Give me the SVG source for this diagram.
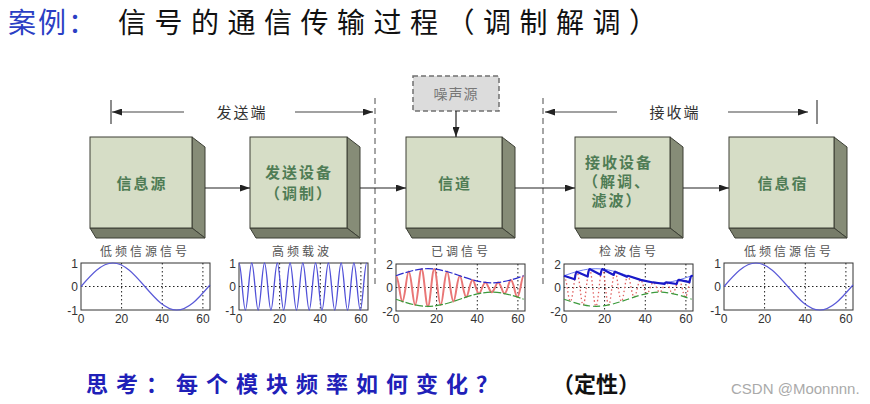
<svg xmlns="http://www.w3.org/2000/svg" xmlns:xlink="http://www.w3.org/1999/xlink" width="870" height="404" viewBox="0 0 870 404">
<style>
.cjk{font-family:"Noto Sans CJK SC","Noto Sans",sans-serif}
.front{fill:#d6ddc6;stroke:#3c3f35;stroke-width:1}
.side{fill:#868c77;stroke:#3c3f35;stroke-width:1}
.bot{fill:#777c69;stroke:#3c3f35;stroke-width:1}
.lbl{font-family:"Noto Sans CJK SC",sans-serif;font-size:15px;font-weight:bold;fill:#4f7c55;text-anchor:middle;letter-spacing:2px}
.conn{stroke:#222;stroke-width:1.2;fill:none;marker-end:url(#ah)}
.span{stroke:#444;stroke-width:1.2;fill:none;marker-end:url(#ah)}
.tickm{stroke:#666;stroke-width:1.5}
.vdash{stroke:#888;stroke-width:1.5;stroke-dasharray:6 4}
.axis{fill:#fff;stroke:#333;stroke-width:1}
.grid{stroke:#222;stroke-width:1;stroke-dasharray:1.5 2.5;fill:none}
.tk{font-family:"Liberation Sans",Arial,sans-serif;font-size:12px;fill:#333}
.tky{text-anchor:end}
.tkx{text-anchor:middle}
.pt{font-family:"Noto Sans CJK SC",sans-serif;font-size:12px;fill:#555;letter-spacing:3px;text-anchor:middle}
.side-lbl{font-family:"Noto Sans CJK SC",sans-serif;font-size:15px;fill:#333;letter-spacing:2px;text-anchor:middle}
</style>
<defs>
<marker id="ah" viewBox="0 0 10 7" refX="10" refY="3.5" markerWidth="10" markerHeight="7" markerUnits="userSpaceOnUse" orient="auto">
<path d="M0,0 L10,3.5 L0,7 z" fill="#222"/>
</marker>
<path id="sine" vector-effect="non-scaling-stroke" fill="none" d="M0,0 C5.123,.5123 10.023,1 15.708,1 C21.393,1 26.293,.5123 31.416,0 C36.539,-.5123 41.439,-1 47.124,-1 C52.809,-1 57.709,-.5123 62.832,0 L63.5,.067"/>
<path id="carrier" vector-effect="non-scaling-stroke" fill="none" d="M0,1 c.5685,0 1.0585,-.4877 1.5708,-1 c.5123,-.5123 1.0023,-1 1.5708,-1 c.5685,0 1.0585,.4877 1.5708,1 c.5123,.5123 1.0023,1 1.5708,1 c.5685,0 1.0585,-.4877 1.5708,-1 c.5123,-.5123 1.0023,-1 1.5708,-1 c.5685,0 1.0585,.4877 1.5708,1 c.5123,.5123 1.0023,1 1.5708,1 c.5685,0 1.0585,-.4877 1.5708,-1 c.5123,-.5123 1.0023,-1 1.5708,-1 c.5685,0 1.0585,.4877 1.5708,1 c.5123,.5123 1.0023,1 1.5708,1 c.5685,0 1.0585,-.4877 1.5708,-1 c.5123,-.5123 1.0023,-1 1.5708,-1 c.5685,0 1.0585,.4877 1.5708,1 c.5123,.5123 1.0023,1 1.5708,1 c.5685,0 1.0585,-.4877 1.5708,-1 c.5123,-.5123 1.0023,-1 1.5708,-1 c.5685,0 1.0585,.4877 1.5708,1 c.5123,.5123 1.0023,1 1.5708,1 c.5685,0 1.0585,-.4877 1.5708,-1 c.5123,-.5123 1.0023,-1 1.5708,-1 c.5685,0 1.0585,.4877 1.5708,1 c.5123,.5123 1.0023,1 1.5708,1 c.5685,0 1.0585,-.4877 1.5708,-1 c.5123,-.5123 1.0023,-1 1.5708,-1 c.5685,0 1.0585,.4877 1.5708,1 c.5123,.5123 1.0023,1 1.5708,1 c.5685,0 1.0585,-.4877 1.5708,-1 c.5123,-.5123 1.0023,-1 1.5708,-1 c.5685,0 1.0585,.4877 1.5708,1 c.5123,.5123 1.0023,1 1.5708,1 c.5685,0 1.0585,-.4877 1.5708,-1 c.5123,-.5123 1.0023,-1 1.5708,-1 c.5685,0 1.0585,.4877 1.5708,1 c.5123,.5123 1.0023,1 1.5708,1 c.5685,0 1.0585,-.4877 1.5708,-1 c.5123,-.5123 1.0023,-1 1.5708,-1 c.5685,0 1.0585,.4877 1.5708,1 c.5123,.5123 1.0023,1 1.5708,1"/>
<path id="am" vector-effect="non-scaling-stroke" fill="none" d="M0,1 c.5685,0 1.0585,-.4877 1.5708,-1 c.5123,-.6073 1.0023,-1.1854 1.5708,-1.1854 c.5685,0 1.0585,.5781 1.5708,1.1854 c.5123,.6930 1.0023,1.3527 1.5708,1.3527 c.5685,0 1.0585,-.6597 1.5708,-1.3527 c.5123,-.7610 1.0023,-1.4854 1.5708,-1.4854 c.5685,0 1.0585,.7244 1.5708,1.4854 c.5123,.8046 1.0023,1.5706 1.5708,1.5706 c.5685,0 1.0585,-.7660 1.5708,-1.5706 c.5123,-.8197 1.0023,-1.6 1.5708,-1.6 c.5685,0 1.0585,.7803 1.5708,1.6 c.5123,.8046 1.0023,1.5706 1.5708,1.5706 c.5685,0 1.0585,-.7660 1.5708,-1.5706 c.5123,-.7610 1.0023,-1.4854 1.5708,-1.4854 c.5685,0 1.0585,.7244 1.5708,1.4854 c.5123,.6930 1.0023,1.3527 1.5708,1.3527 c.5685,0 1.0585,-.6597 1.5708,-1.3527 c.5123,-.6073 1.0023,-1.1854 1.5708,-1.1854 c.5685,0 1.0585,.5781 1.5708,1.1854 c.5123,.5123 1.0023,1 1.5708,1 c.5685,0 1.0585,-.4877 1.5708,-1 c.5123,-.4173 1.0023,-.8146 1.5708,-.8146 c.5685,0 1.0585,.3973 1.5708,.8146 c.5123,.3316 1.0023,.6473 1.5708,.6473 c.5685,0 1.0585,-.3157 1.5708,-.6473 c.5123,-.2636 1.0023,-.5146 1.5708,-.5146 c.5685,0 1.0585,.2510 1.5708,.5146 c.5123,.2200 1.0023,.4294 1.5708,.4294 c.5685,0 1.0585,-.2094 1.5708,-.4294 c.5123,-.2049 1.0023,-.4 1.5708,-.4 c.5685,0 1.0585,.1951 1.5708,.4 c.5123,.2200 1.0023,.4294 1.5708,.4294 c.5685,0 1.0585,-.2094 1.5708,-.4294 c.5123,-.2636 1.0023,-.5146 1.5708,-.5146 c.5685,0 1.0585,.2510 1.5708,.5146 c.5123,.3316 1.0023,.6473 1.5708,.6473 c.5685,0 1.0585,-.3157 1.5708,-.6473 c.5123,-.4173 1.0023,-.8146 1.5708,-.8146 c.5685,0 1.0585,.3973 1.5708,.8146 c.5123,.5123 1.0023,1 1.5708,1"/>
<path id="envU" vector-effect="non-scaling-stroke" fill="none" d="M0,1 c5.123,.3074 10.023,.6 15.708,.6 c5.685,0 10.585,-.2926 15.708,-.6 c5.123,-.3074 10.023,-.6 15.708,-.6 c5.685,0 10.585,.2926 15.708,.6"/>
<path id="envL" vector-effect="non-scaling-stroke" fill="none" d="M0,-1 c5.123,-.3074 10.023,-.6 15.708,-.6 c5.685,0 10.585,.2926 15.708,.6 c5.123,.3074 10.023,.6 15.708,.6 c5.685,0 10.585,-.2926 15.708,-.6"/>
</defs>
<rect width="870" height="404" fill="#fff"/>
<!-- title -->
<text x="8" y="33" class="cjk" font-size="28" fill="#2b3fc4" letter-spacing="2">案例：</text>
<text x="118" y="33" class="cjk" font-size="28" fill="#111" letter-spacing="8.5">信号的通信传输过程（调制解调）</text>
<!-- span markers -->
<g id="send-span">
<line class="tickm" x1="111" y1="100" x2="111" y2="124"/>
<line class="span" x1="184" y1="112" x2="112" y2="112"/>
<line class="span" x1="295" y1="112" x2="373" y2="112"/>
<text class="side-lbl" x="242" y="118">发送端</text>
</g>
<g id="recv-span">
<line class="tickm" x1="817" y1="100" x2="817" y2="124"/>
<line class="span" x1="617" y1="112" x2="545" y2="112"/>
<line class="span" x1="728" y1="112" x2="808" y2="112"/>
<text class="side-lbl" x="675" y="118">接收端</text>
</g>
<line class="vdash" x1="375" y1="98" x2="375" y2="284"/>
<line class="vdash" x1="543" y1="98" x2="543" y2="284"/>
<!-- nodes -->
<g id="source">
<polygon class="side" points="192,137 205,147 205,238 192,228"/>
<polygon class="bot" points="90,228 192,228 205,238 96,238"/>
<rect class="front" x="90" y="137" width="102" height="91"/>
<text class="lbl" x="142" y="189">信息源</text>
</g>
<g id="transmitter">
<polygon class="side" points="347,137 360,147 360,238 347,228"/>
<polygon class="bot" points="250,228 347,228 360,238 256,238"/>
<rect class="front" x="250" y="137" width="97" height="91"/>
<text class="lbl" x="299" y="178">发送设备</text>
<text class="lbl" x="299" y="199">（调制）</text>
</g>
<g id="channel">
<polygon class="side" points="502,137 515,147 515,238 502,228"/>
<polygon class="bot" points="406,228 502,228 515,238 412,238"/>
<rect class="front" x="406" y="137" width="96" height="91"/>
<text class="lbl" x="455" y="189">信道</text>
</g>
<g id="noise">
<rect x="413" y="76" width="86" height="35" fill="#dcdcdc" stroke="#707070" stroke-width="1.5" stroke-dasharray="5 3"/>
<text x="456" y="99" class="cjk" font-size="14" fill="#777" text-anchor="middle" letter-spacing="1">噪声源</text>
</g>
<g id="receiver">
<polygon class="side" points="670,137 683,147 683,238 670,228"/>
<polygon class="bot" points="575,228 670,228 683,238 581,238"/>
<rect class="front" x="575" y="137" width="95" height="91"/>
<text class="lbl" x="619" y="168">接收设备</text>
<text class="lbl" x="617" y="187">（解调、</text>
<text class="lbl" x="617" y="206">滤波）</text>
</g>
<g id="sink">
<polygon class="side" points="834,137 847,147 847,238 834,228"/>
<polygon class="bot" points="729,228 834,228 847,238 735,238"/>
<rect class="front" x="729" y="137" width="105" height="91"/>
<text class="lbl" x="783" y="189">信息宿</text>
</g>
<!-- connectors -->
<g id="connectors">
<line class="conn" x1="205" y1="188" x2="250" y2="188"/>
<line class="conn" x1="360" y1="188" x2="406" y2="188"/>
<line class="conn" x1="515" y1="188" x2="575" y2="188"/>
<line class="conn" x1="683" y1="188" x2="729" y2="188"/>
<line class="conn" x1="456" y1="111" x2="456" y2="137"/>
</g>
<!-- plot 1 -->
<g id="plot1">
<text class="pt" x="145" y="256">低频信源信号</text>
<rect class="axis" x="81" y="263" width="129" height="47"/>
<path class="grid" d="M121.6,263V310M162.3,263V310M202.9,263V310M81,286.5H210"/>
<g transform="translate(81,286.5) scale(2.032,-23.5)"><use xlink:href="#sine" stroke="#5a5ad8" stroke-width="1.2"/></g>
<text class="tk tky" x="78" y="268">1</text><text class="tk tky" x="78" y="291">0</text><text class="tk tky" x="78" y="315">-1</text>
<text class="tk tkx" x="81" y="323">0</text><text class="tk tkx" x="121.6" y="323">20</text><text class="tk tkx" x="162.3" y="323">40</text><text class="tk tkx" x="202.9" y="323">60</text>
</g>
<!-- plot 2 -->
<g id="plot2">
<text class="pt" x="302" y="256">高频载波</text>
<rect class="axis" x="239" y="263" width="129" height="47"/>
<path class="grid" d="M279.6,263V310M320.3,263V310M360.9,263V310M239,286.5H368"/>
<g transform="translate(239,286.5) scale(2.032,-23.5)"><use xlink:href="#carrier" stroke="#5050d8" stroke-width="1.3"/></g>
<text class="tk tky" x="236" y="268">1</text><text class="tk tky" x="236" y="291">0</text><text class="tk tky" x="236" y="315">-1</text>
<text class="tk tkx" x="239" y="323">0</text><text class="tk tkx" x="279.6" y="323">20</text><text class="tk tkx" x="320.3" y="323">40</text><text class="tk tkx" x="360.9" y="323">60</text>
</g>
<!-- plot 3 -->
<g id="plot3">
<text class="pt" x="461" y="256">已调信号</text>
<rect class="axis" x="396" y="264" width="129" height="47"/>
<path class="grid" d="M436.6,264V311M477.3,264V311M517.9,264V311M396,287.5H525"/>
<g transform="translate(396,287.5) scale(2.032,-11.75)">
<use xlink:href="#am" stroke="#e97676" stroke-width="2"/>
<use xlink:href="#envU" stroke="#2a2acc" stroke-width="1.2" stroke-dasharray="8 2"/>
<use xlink:href="#envL" stroke="#3c9a3c" stroke-width="1.2" stroke-dasharray="8 2"/>
</g>
<text class="tk tky" x="393" y="269">2</text><text class="tk tky" x="393" y="292">0</text><text class="tk tky" x="393" y="316">-2</text>
<text class="tk tkx" x="396" y="323">0</text><text class="tk tkx" x="436.6" y="323">20</text><text class="tk tkx" x="477.3" y="323">40</text><text class="tk tkx" x="517.9" y="323">60</text>
</g>
<!-- plot 4 -->
<g id="plot4">
<text class="pt" x="629" y="256">检波信号</text>
<rect class="axis" x="564" y="264" width="129" height="47"/>
<path class="grid" d="M604.6,264V311M645.3,264V311M685.9,264V311M564,287.5H693"/>
<g transform="translate(564,287.5) scale(2.032,-11.75)">
<use xlink:href="#am" stroke="#e06060" stroke-width="1.3" stroke-dasharray="1.5 2.5"/>
<use xlink:href="#envL" stroke="#3c9a3c" stroke-width="1.2" stroke-dasharray="7 3"/>
<use xlink:href="#envU" stroke="#6a7aee" stroke-width="1"/>
<path vector-effect="non-scaling-stroke" fill="none" stroke="#1a1ac8" stroke-width="2.2" stroke-linejoin="round" d="M0,1 L5.28,.70 Q5.78,1.35 6.28,1.35 L11.65,.935 Q12.11,1.57 12.57,1.57 L18,1.08 Q18.43,1.57 18.85,1.57 L24.45,1.07 Q24.79,1.35 25.13,1.35 L30.95,.907 Q31.19,1 31.42,1 L37.7,.65 L43.8,.425 Q43.89,.43 43.98,.43 L49.5,.295 Q49.89,.43 50.27,.43 L55.45,.3 Q56,.647 56.55,.647 L61.75,.453 Q62.29,1 62.83,1 L63.4,.98"/>
</g>
<text class="tk tky" x="561" y="269">2</text><text class="tk tky" x="561" y="292">0</text><text class="tk tky" x="561" y="316">-2</text>
<text class="tk tkx" x="564" y="323">0</text><text class="tk tkx" x="604.6" y="323">20</text><text class="tk tkx" x="645.3" y="323">40</text><text class="tk tkx" x="685.9" y="323">60</text>
</g>
<!-- plot 5 -->
<g id="plot5">
<text class="pt" x="789" y="256">低频信源信号</text>
<rect class="axis" x="724" y="263" width="129" height="47"/>
<path class="grid" d="M764.6,263V310M805.3,263V310M845.9,263V310M724,286.5H853"/>
<g transform="translate(724,286.5) scale(2.032,-23.5)"><use xlink:href="#sine" stroke="#5a5ad8" stroke-width="1.2"/></g>
<text class="tk tky" x="721" y="268">1</text><text class="tk tky" x="721" y="291">0</text><text class="tk tky" x="721" y="315">-1</text>
<text class="tk tkx" x="724" y="323">0</text><text class="tk tkx" x="764.6" y="323">20</text><text class="tk tkx" x="805.3" y="323">40</text><text class="tk tkx" x="845.9" y="323">60</text>
</g>
<!-- bottom text -->
<text x="86" y="392" class="cjk" font-size="22" font-weight="bold" fill="#2020b8" letter-spacing="8">思考：每个模块频率如何变化？</text>
<text x="552" y="392" class="cjk" font-size="22" font-weight="bold" fill="#111">（定性）</text>
<text x="731" y="394" font-family="Liberation Sans, Arial, sans-serif" font-size="15" fill="#aaa">CSDN @Moonnnn.</text>
</svg>
